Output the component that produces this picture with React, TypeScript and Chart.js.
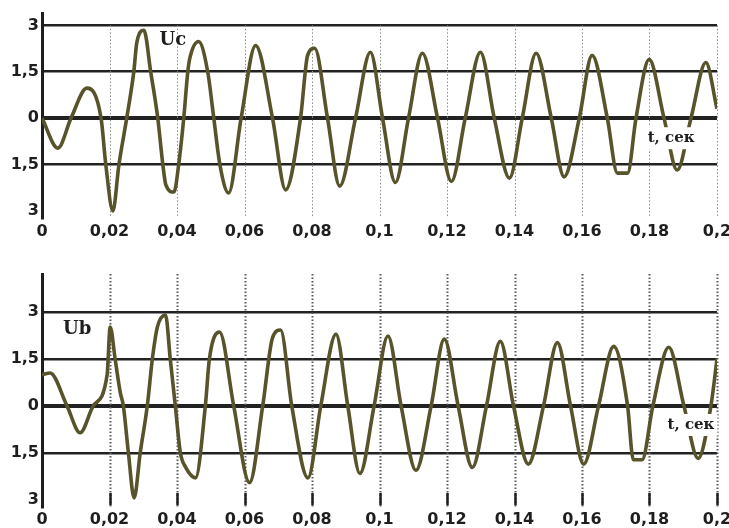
import React, { useEffect, useRef } from "react";
import { Chart, registerables } from "chart.js";

Chart.register(...registerables);

// ---------- data ----------
const xTickValues = [0, 0.02, 0.04, 0.06, 0.08, 0.1, 0.12, 0.14, 0.16, 0.18, 0.2];
const xTickLabels = ["0", "0,02", "0,04", "0,06", "0,08", "0,1", "0,12", "0,14", "0,16", "0,18", "0,2"];
const yTickValues = [-3, -1.5, 0, 1.5, 3];
const yTickLabels = ["3", "1,5", "0", "1,5", "3"];

const ucTime = [
  0, 0.0047, 0.0086, 0.0133, 0.0175, 0.0189, 0.021, 0.0228, 0.0251, 0.0272, 0.0281, 0.0302,
  0.0322, 0.0343, 0.0358, 0.0367, 0.0391, 0.0405, 0.042, 0.0432, 0.0438, 0.0464, 0.0491, 0.0509,
  0.0527, 0.0553, 0.059, 0.0633, 0.0683, 0.0722, 0.0766, 0.0787, 0.0808, 0.0846, 0.0882, 0.0929,
  0.0973, 0.1009, 0.1047, 0.1086, 0.1127, 0.1172, 0.1213, 0.1254, 0.1299, 0.134, 0.1385, 0.1423,
  0.1464, 0.1509, 0.1547, 0.1592, 0.163, 0.1675, 0.1705, 0.1735, 0.176, 0.1799, 0.1843, 0.1882,
  0.1923, 0.1967, 0.2,
];
const ucValue = [
  0, -0.97, 0, 0.97, 0, -1.5, -3.0, -1.5, 0, 1.5, 2.45, 2.84,
  1.5, 0, -1.5, -2.16, -2.39, -1.5, 0, 1.5, 1.94, 2.48, 1.5, 0,
  -1.5, -2.42, 0, 2.35, 0, -2.32, 0, 2.03, 2.26, 0, -2.2, 0,
  2.13, 0, -2.08, 0, 2.1, 0, -2.05, 0, 2.13, 0, -1.94, 0,
  2.1, 0, -1.9, 0, 2.03, 0, -1.78, -1.78, 0, 1.9, 0, -1.68,
  0, 1.8, 0.3,
];

const ubTime = [
  0, 0.0024, 0.0074, 0.0113, 0.0152, 0.0193, 0.0202, 0.0217, 0.0232, 0.0241, 0.0256, 0.0273,
  0.0291, 0.0312, 0.0327, 0.0342, 0.0366, 0.038, 0.0395, 0.041, 0.0425, 0.0455, 0.0484, 0.0496,
  0.0526, 0.0568, 0.0615, 0.0654, 0.0683, 0.0707, 0.074, 0.0788, 0.0826, 0.0871, 0.0906, 0.0942,
  0.0984, 0.1025, 0.1064, 0.1108, 0.1153, 0.1192, 0.1233, 0.1275, 0.1317, 0.1358, 0.1397, 0.1441,
  0.1486, 0.1527, 0.1566, 0.1605, 0.1649, 0.1694, 0.1735, 0.1752, 0.1778, 0.181, 0.1857, 0.1902,
  0.1944, 0.1982, 0.2,
];
const ubValue = [
  0.99, 1.05, 0, -0.86, 0, 0.99, 2.52, 1.47, 0.42, 0, -1.5, -2.94,
  -1.5, 0, 1.5, 2.52, 2.9, 1.5, 0, -1.5, -1.95, -2.3, 0, 1.5,
  2.36, 0, -2.45, 0, 2.17, 2.42, 0, -2.3, 0, 2.29, 0, -2.16,
  0, 2.23, 0, -2.06, 0, 2.13, 0, -1.97, 0, 2.06, 0, -1.86,
  0, 2.02, 0, -1.86, 0, 1.9, 0, -1.72, -1.72, 0, 1.87, 0,
  -1.68, 0, 1.5,
];

// annotation anchors (data coordinates)
const topNameLabel = { text: "Uc", t: 0.0388, v: 2.52 };
const bottomNameLabel = { text: "Ub", t: 0.0104, v: 2.43 };
const topUnitLabel = { text: "t, сек", t: 0.1864, v: -0.65 };
const bottomUnitLabel = { text: "t, сек", t: 0.1923, v: -0.61 };

// ---------- chart factory ----------
type PanelCfg = {
  time: number[];
  values: number[];
  yMin: number;
  yMax: number;
  padTop: number;
  xAxisHeight: number;
  labelPad: number;
  gridFromValue: number | null;
  dotColor: string;
  dotWidth: number;
  tickMarks: boolean;
  name: { text: string; t: number; v: number };
  unit: { text: string; t: number; v: number };
};

const tickFont = { family: "'DejaVu Sans', Verdana, sans-serif", weight: "bold" as const, size: 16 };
const inkColor = "#1e1e1e";

function makeChart(canvas: HTMLCanvasElement, cfg: PanelCfg) {
  const points = cfg.time.map((t, i) => ({ x: t, y: cfg.values[i] }));

  const overlay = {
    id: "overlay",
    beforeDatasetsDraw(chart: any) {
      const { ctx, chartArea, scales } = chart;
      const xs = scales.x;
      const ys = scales.y;
      const top = cfg.gridFromValue === null ? chartArea.top : ys.getPixelForValue(cfg.gridFromValue);
      ctx.save();
      ctx.strokeStyle = cfg.dotColor;
      ctx.lineWidth = cfg.dotWidth;
      ctx.setLineDash([1.5, 2]);
      xTickValues.forEach((v) => {
        if (v === 0) return;
        const px = Math.round(xs.getPixelForValue(v)) + 0.5;
        ctx.beginPath();
        ctx.moveTo(px, top);
        ctx.lineTo(px, chartArea.bottom);
        ctx.stroke();
      });
      ctx.setLineDash([]);
      if (cfg.tickMarks) {
        ctx.strokeStyle = inkColor;
        ctx.lineWidth = 2.5;
        xTickValues.forEach((v) => {
          if (v === 0) return;
          const px = Math.round(xs.getPixelForValue(v)) + 0.5;
          ctx.beginPath();
          ctx.moveTo(px, chartArea.bottom - 14);
          ctx.lineTo(px, chartArea.bottom - 2);
          ctx.stroke();
        });
      }
      ctx.restore();
    },
    afterDatasetsDraw(chart: any) {
      const { ctx, scales } = chart;
      const xs = scales.x;
      const ys = scales.y;
      ctx.save();
      ctx.fillStyle = inkColor;
      ctx.textAlign = "center";
      ctx.textBaseline = "middle";
      ctx.font = "bold 18px 'DejaVu Serif', 'Liberation Serif', serif";
      ctx.fillText(cfg.name.text, xs.getPixelForValue(cfg.name.t), ys.getPixelForValue(cfg.name.v));

      ctx.font = "bold 15px 'DejaVu Serif', 'Liberation Serif', serif";
      const ux = xs.getPixelForValue(cfg.unit.t);
      const uy = ys.getPixelForValue(cfg.unit.v);
      const w = ctx.measureText(cfg.unit.text).width;
      ctx.fillStyle = "#ffffff";
      ctx.fillRect(ux - w / 2 - 3, uy - 11, w + 6, 22);
      ctx.fillStyle = inkColor;
      ctx.fillText(cfg.unit.text, ux, uy);
      ctx.restore();
    },
  };

  return new Chart(canvas, {
    type: "line",
    data: {
      datasets: [
        {
          data: points,
          borderColor: "#57532a",
          borderWidth: 3.6,
          pointRadius: 0,
          cubicInterpolationMode: "monotone",
          fill: false,
        },
        {
          data: points,
          borderColor: "#dcd57e",
          borderWidth: 1.4,
          pointRadius: 0,
          cubicInterpolationMode: "monotone",
          fill: false,
        },
      ],
    },
    options: {
      animation: false,
      responsive: false,
      maintainAspectRatio: false,
      events: [],
      layout: { padding: { top: cfg.padTop, right: 12, left: 0, bottom: 0 } },
      plugins: { legend: { display: false }, tooltip: { enabled: false } },
      scales: {
        x: {
          type: "linear",
          min: 0,
          max: 0.2,
          afterBuildTicks: (s: any) => {
            s.ticks = xTickValues.map((v) => ({ value: v }));
          },
          afterFit: (s: any) => {
            s.height = cfg.xAxisHeight;
            s.paddingRight = 0;
            s.paddingLeft = 0;
          },
          ticks: {
            autoSkip: false,
            maxRotation: 0,
            minRotation: 0,
            padding: cfg.labelPad,
            color: inkColor,
            font: tickFont,
            callback: (_v: any, i: number) => xTickLabels[i],
          },
          grid: { display: false, drawTicks: false },
          border: { display: false },
        },
        y: {
          type: "linear",
          min: cfg.yMin,
          max: cfg.yMax,
          afterBuildTicks: (s: any) => {
            s.ticks = yTickValues.map((v) => ({ value: v }));
          },
          afterFit: (s: any) => {
            s.width = 42;
            s.paddingTop = 0;
            s.paddingBottom = 0;
          },
          ticks: {
            padding: 3,
            color: inkColor,
            font: tickFont,
            callback: (_v: any, i: number) => yTickLabels[i],
          },
          grid: {
            drawTicks: false,
            color: (c: any) => (c.tick && c.tick.value === -3 ? "rgba(0,0,0,0)" : "#222222"),
            lineWidth: (c: any) => (c.tick && c.tick.value === 0 ? 4 : 2.5),
          },
          border: { display: true, color: inkColor, width: 3 },
        },
      },
    },
    plugins: [overlay],
  } as any);
}

export default function App() {
  const topRef = useRef<HTMLCanvasElement | null>(null);
  const botRef = useRef<HTMLCanvasElement | null>(null);

  useEffect(() => {
    const charts: Chart[] = [];
    if (topRef.current) {
      charts.push(
        makeChart(topRef.current, {
          time: ucTime,
          values: ucValue,
          yMin: -3.23,
          yMax: 3.4,
          padTop: 13,
          xAxisHeight: 32,
          labelPad: 4,
          gridFromValue: 3,
          dotColor: "#8a8a8a",
          dotWidth: 1,
          tickMarks: false,
          name: topNameLabel,
          unit: topUnitLabel,
        })
      );
    }
    if (botRef.current) {
      charts.push(
        makeChart(botRef.current, {
          time: ubTime,
          values: ubValue,
          yMin: -3.23,
          yMax: 4.21,
          padTop: 24,
          xAxisHeight: 21,
          labelPad: 3,
          gridFromValue: null,
          dotColor: "#5a5a5a",
          dotWidth: 2,
          tickMarks: true,
          name: bottomNameLabel,
          unit: bottomUnitLabel,
        })
      );
    }
    return () => charts.forEach((c) => c.destroy());
  }, []);

  return (
    <div
      style={{
        position: "absolute",
        left: 0,
        top: 0,
        width: 729,
        height: 528,
        background: "#ffffff",
        overflow: "hidden",
      }}
    >
      <canvas ref={topRef} width={729} height={250} style={{ display: "block", width: 729, height: 250 }} />
      <canvas ref={botRef} width={729} height={278} style={{ display: "block", width: 729, height: 278 }} />
    </div>
  );
}
